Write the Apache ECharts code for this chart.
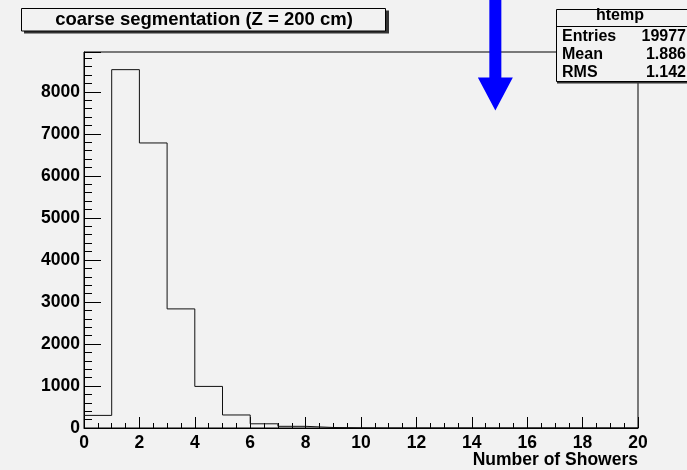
<!DOCTYPE html>
<html>
<head>
<meta charset="utf-8">
<script src="https://cdn.jsdelivr.net/npm/echarts@6/dist/echarts.min.js"></script>
<style>
html,body{margin:0;padding:0;background:#f2f2f2;}
#c{width:687px;height:470px;}
</style>
</head>
<body>
<div id="c"></div>
<script>
// Data
const binEdges = [0,1,2,3,4,5,6,7,8,9,10,11,12,13,14,15,16,17,18,19,20];
const binCounts = [300,8530,6785,2835,990,310,100,40,12,4,0,0,0,0,0,0,0,0,0,0];
const xTicks = [0,2,4,6,8,10,12,14,16,18,20];
const yTicks = [0,1000,2000,3000,4000,5000,6000,7000,8000];
const titleText = 'coarse segmentation (Z = 200 cm)';
const xAxisTitle = 'Number of Showers';
const statsName = 'htemp';
const statsLabels = ['Entries','Mean','RMS'];
const statsValues = ['19977','1.886','1.142'];
const arrowX = 14.85;
const arrowTipY = 7560;

const FONT = '"Liberation Sans", Arial, Helvetica, sans-serif';

const lineData = [];
for (let i = 0; i < binCounts.length; i++) lineData.push([binEdges[i], binCounts[i]]);
lineData.push([binEdges[binEdges.length-1], binCounts[binCounts.length-1]]);

const chart = echarts.init(document.getElementById('c'), null, {renderer:'canvas'});
const option = {
  backgroundColor:'#f2f2f2',
  animation:false,
  grid:{left:84,right:49,top:52,bottom:42,outerBoundsMode:'none',containLabel:false,show:true,borderColor:'#000',borderWidth:1,backgroundColor:'transparent'},
  xAxis:{
    type:'value', min:xTicks[0], max:xTicks[xTicks.length-1], interval:2,
    axisLine:{show:true,lineStyle:{color:'#000',width:1}},
    axisTick:{show:true,inside:true,length:11,lineStyle:{color:'#000'}},
    minorTick:{show:true,splitNumber:4,length:5,lineStyle:{color:'#000'}},
    splitLine:{show:false},
    axisLabel:{fontFamily:FONT,fontWeight:'bold',fontSize:17.5,color:'#000',margin:6}
  },
  yAxis:{
    type:'value', min:0, max:8950, interval:1000,
    axisLine:{show:true,lineStyle:{color:'#000',width:1}},
    axisTick:{show:true,inside:true,length:17,lineStyle:{color:'#000'}},
    minorTick:{show:true,splitNumber:5,length:8,lineStyle:{color:'#000'}},
    splitLine:{show:false},
    axisLabel:{fontFamily:FONT,fontWeight:'bold',fontSize:17.5,color:'#000',margin:4,showMaxLabel:false,
      formatter:function(v){return yTicks.indexOf(v)>=0?String(v):'';}}
  },
  series:[{
    type:'line', step:'end', data:lineData, showSymbol:false, symbol:'none',
    lineStyle:{color:'#111',width:1}, z:5
  }]
};
chart.setOption(option);

// Arrow annotation and axis title positioned via axis conversion
const tip = chart.convertToPixel({gridIndex:0},[arrowX, arrowTipY]);
const ax = tip[0], ay = tip[1];
const axEnd = chart.convertToPixel({gridIndex:0},[xTicks[xTicks.length-1], 0]);
const shaftHalf = 6, headHalf = 17.5, headLen = 33;

const statsX = 556, statsTop = 9, statsBottom = 82, statsRight = 700;
const graphics = [
  {type:'polygon', z:100, shape:{points:[[ax-shaftHalf,0],[ax+shaftHalf,0],[ax+shaftHalf,ay-headLen],[ax+headHalf,ay-headLen],[ax,ay],[ax-headHalf,ay-headLen],[ax-shaftHalf,ay-headLen]]}, style:{fill:'#0000ff'}},
  {type:'text', z:92, x:axEnd[0], y:axEnd[1]+32, style:{text:xAxisTitle,font:'bold 17.5px '+FONT,fill:'#000',align:'right',verticalAlign:'middle'}},
  // title box
  {type:'rect', z:90, shape:{x:24,y:10.5,width:365,height:23}, style:{fill:'#333'}},
  {type:'rect', z:91, shape:{x:21.5,y:8.5,width:364,height:22.5}, style:{fill:'#f2f2f2',stroke:'#000',lineWidth:1}},
  {type:'text', z:92, x:204, y:20, style:{text:titleText,font:'bold 18.5px '+FONT,fill:'#000',align:'center',verticalAlign:'middle'}},
  // stats box
  {type:'rect', z:90, shape:{x:statsX+1,y:statsTop+1.5,width:statsRight-statsX,height:statsBottom-statsTop}, style:{fill:'#333'}},
  {type:'rect', z:91, shape:{x:statsX+0.5,y:statsTop+0.5,width:statsRight-statsX,height:statsBottom-statsTop-1}, style:{fill:'#f2f2f2',stroke:'#000',lineWidth:1}},
  {type:'line', z:92, shape:{x1:statsX,y1:26.5,x2:statsRight,y2:26.5}, style:{stroke:'#000',lineWidth:1}},
  {type:'text', z:92, x:620, y:16, style:{text:statsName,font:'bold 16px '+FONT,fill:'#000',align:'center',verticalAlign:'middle'}}
];
const rowY = [37,55,73];
for (let i=0;i<statsLabels.length;i++){
  graphics.push({type:'text', z:92, x:562, y:rowY[i], style:{text:statsLabels[i],font:'bold 16px '+FONT,fill:'#000',align:'left',verticalAlign:'middle'}});
  graphics.push({type:'text', z:92, x:686, y:rowY[i], style:{text:statsValues[i],font:'bold 16px '+FONT,fill:'#000',align:'right',verticalAlign:'middle'}});
}
chart.setOption({graphic:graphics});
</script>
</body>
</html>
